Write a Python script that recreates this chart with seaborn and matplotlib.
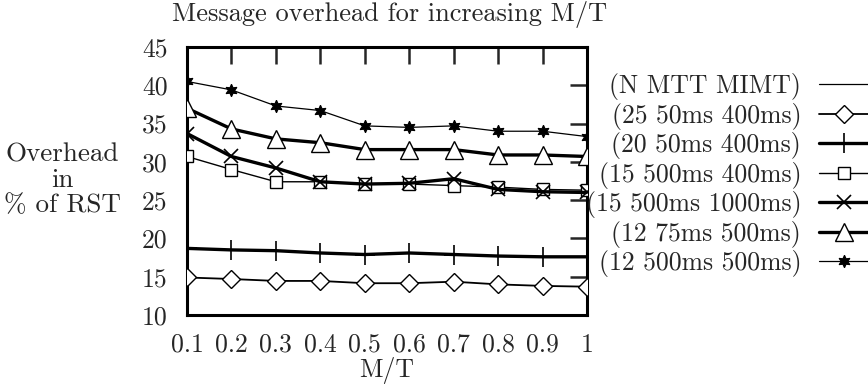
import matplotlib
matplotlib.use("Agg")
import matplotlib.pyplot as plt
import seaborn as sns
import numpy as np
from matplotlib.lines import Line2D

# ---- data ----
mt = [0.1, 0.2, 0.3, 0.4, 0.5, 0.6, 0.7, 0.8, 0.9, 1.0]
x_ticklabels = ["0.1", "0.2", "0.3", "0.4", "0.5", "0.6", "0.7", "0.8", "0.9", "1"]
y_ticks = [10, 15, 20, 25, 30, 35, 40, 45]

header_label = "(N MTT MIMT)"
labels = ["(25 50ms 400ms)", "(20 50ms 400ms)", "(15 500ms 400ms)",
          "(15 500ms 1000ms)", "(12 75ms 500ms)", "(12 500ms 500ms)"]
s_25_50_400 = [14.9, 14.7, 14.45, 14.45, 14.15, 14.15, 14.35, 14.0, 13.8, 13.7]
s_20_50_400 = [18.7, 18.5, 18.4, 18.1, 17.9, 18.1, 17.9, 17.7, 17.6, 17.6]
s_15_500_400 = [30.7, 29.0, 27.4, 27.4, 27.1, 27.1, 26.9, 26.7, 26.4, 26.3]
s_15_500_1000 = [33.7, 30.7, 29.2, 27.4, 27.1, 27.2, 27.8, 26.4, 26.1, 26.0]
s_12_75_500 = [37.0, 34.3, 33.0, 32.5, 31.6, 31.6, 31.6, 30.9, 30.9, 30.7]
s_12_500_500 = [40.5, 39.4, 37.3, 36.7, 34.7, 34.5, 34.7, 34.0, 34.0, 33.3]
series = [s_25_50_400, s_20_50_400, s_15_500_400, s_15_500_1000, s_12_75_500, s_12_500_500]

# ---- styles ----
styles = [
    dict(marker="D", ms=9, lw=1.3, mfc="white", mew=1.0),
    dict(marker="+", ms=15, lw=2.4, mfc="black", mew=1.2),
    dict(marker="s", ms=9, lw=1.0, mfc="white", mew=1.0),
    dict(marker="x", ms=10, lw=2.4, mfc="black", mew=1.2),
    dict(marker="^", ms=13, lw=2.4, mfc="white", mew=1.0),
    dict(marker=(6, 1, 0), ms=9, lw=0.9, mfc="black", mew=0.8),
]

sns.set_style("white")
plt.rcParams["font.family"] = ["cmr10", "DejaVu Serif"]
plt.rcParams["axes.formatter.use_mathtext"] = True
FS = 18.5

fig = plt.figure(figsize=(8.68, 3.87), dpi=100)
ax = fig.add_axes([187/868, 1-315/387, 400/868, 268/387])

for vals, st in zip(series, styles):
    sns.lineplot(x=mt, y=vals, ax=ax, color="black", lw=st["lw"], marker=st["marker"],
                 markersize=st["ms"], markerfacecolor=st["mfc"], markeredgecolor="black",
                 markeredgewidth=st["mew"], legend=False, zorder=3)

ax.set_xlim(0.1, 1.0)
ax.set_ylim(10, 45)
ax.set_xticks(mt)
ax.set_xticklabels(x_ticklabels, fontsize=FS)
ax.set_yticks(y_ticks)
ax.set_yticklabels([str(v) for v in y_ticks], fontsize=FS)
ax.tick_params(direction="in", length=12, width=1.8, top=True, right=True)
ax.tick_params(axis="x", pad=13)
ax.tick_params(axis="y", pad=14)
for sp in ax.spines.values():
    sp.set_linewidth(2.2)
    sp.set_color("black")
ax.set_xlabel("M/T", fontsize=FS, labelpad=0)
ax.set_ylabel("")

fig.text(390/868, 1-14/387, "Message overhead for increasing M/T", ha="center", va="center", fontsize=FS + 0.5)
fig.text(62/868, 1-180/387, "Overhead\nin\n% of RST", ha="center", va="center",
         fontsize=FS + 1, linespacing=1.07)

# ---- legend (gnuplot style: label then sample) ----
handles = [Line2D([], [], color="black", lw=0.9)]
for st in styles:
    handles.append(Line2D([], [], color="black", lw=st["lw"], marker=st["marker"],
                          markersize=st["ms"], markerfacecolor=st["mfc"],
                          markeredgecolor="black", markeredgewidth=st["mew"]))
leg = fig.legend(handles, [header_label] + labels, loc="upper right",
                 bbox_to_anchor=(1.0, 1-73/387), frameon=False, markerfirst=False,
                 fontsize=FS, handlelength=1.9, handletextpad=0.7, labelspacing=0.1,
                 borderpad=0, borderaxespad=0)

fig.savefig("out.png", dpi=100)
